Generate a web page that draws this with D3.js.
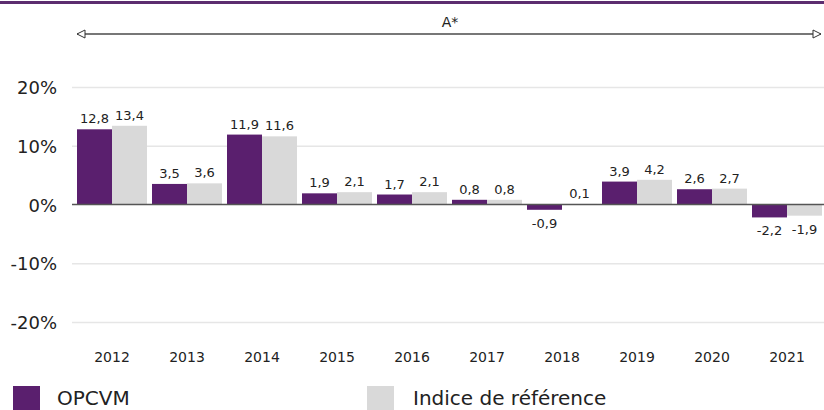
<!DOCTYPE html>
<html><head><meta charset="utf-8">
<script src="https://cdn.jsdelivr.net/npm/d3@7"></script>
<style>body{margin:0;background:#fff}svg{display:block}text{font-family:"DejaVu Sans",Verdana,sans-serif}</style>
</head><body>
<svg id="c" width="824" height="410"></svg>
<script>
const years = ["2012","2013","2014","2015","2016","2017","2018","2019","2020","2021"];
const opcvm = [12.8,3.5,11.9,1.9,1.7,0.8,-0.9,3.9,2.6,-2.2];
const indice = [13.4,3.6,11.6,2.1,2.1,0.8,0.1,4.2,2.7,-1.9];
const seriesNames = ["OPCVM","Indice de référence"];
const yTicks = [-20,-10,0,10,20];
const periodLabel = "A*";

const colors = ["#5a1f6e","#d9d9d9"];
const svg = d3.select("#c");
const x = d3.scaleBand().domain(years).range([77, 827]).paddingInner(0).paddingOuter(0);
const y = d3.scaleLinear().domain([-20,20]).range([322, 87]);
const sub = d3.scaleBand().domain([0,1]).range([0, 70]);
const fmt = v => String(v).replace(".", ",");

svg.append("rect").attr("x",0).attr("y",1).attr("width",824).attr("height",3).attr("fill","#5c2d6f");

svg.append("g").selectAll("line").data(yTicks.filter(d=>d!==0)).join("line")
  .attr("x1",72).attr("x2",824).attr("y1",d=>y(d)+0.5).attr("y2",d=>y(d)+0.5)
  .attr("stroke","#e6e6e6").attr("stroke-width",1.5);

svg.append("g").selectAll("text").data(yTicks).join("text")
  .attr("x",57).attr("y",d=>y(d)+7).attr("text-anchor","end")
  .attr("font-size",18).attr("fill","#222").text(d=>d+"%");

const data = [];
years.forEach((yr,i)=>{ data.push({yr,s:0,v:opcvm[i]}); data.push({yr,s:1,v:indice[i]}); });
svg.append("g").selectAll("rect").data(data).join("rect")
  .attr("x",d=>x(d.yr)+sub(d.s)).attr("width",sub.bandwidth())
  .attr("y",d=>y(Math.max(0,d.v))).attr("height",d=>Math.abs(y(d.v)-y(0)))
  .attr("fill",d=>colors[d.s]);

svg.append("line").attr("x1",72).attr("x2",824).attr("y1",y(0)).attr("y2",y(0))
  .attr("stroke","#555").attr("stroke-width",1.5);

svg.append("g").selectAll("text").data(data).join("text")
  .attr("x",d=>x(d.yr)+sub(d.s)+sub.bandwidth()/2)
  .attr("y",d=>d.v>=0 ? y(d.v)-6 : y(d.v)+18)
  .attr("text-anchor","middle").attr("font-size",13).attr("fill","#222")
  .text(d=>fmt(d.v));

svg.append("g").selectAll("text").data(years).join("text")
  .attr("x",d=>x(d)+35).attr("y",362).attr("text-anchor","middle")
  .attr("font-size",14).attr("fill","#222").text(d=>d);

const defs = svg.append("defs");
["s","e"].forEach(k=>{
  defs.append("marker").attr("id","m"+k).attr("viewBox","0 0 10 10").attr("refX",k==="s"?1:9).attr("refY",5)
   .attr("markerWidth",10).attr("markerHeight",10).attr("markerUnits","userSpaceOnUse").attr("orient","auto")
   .append("path").attr("d",k==="s"?"M9,1 L1,5 L9,9 Z":"M1,1 L9,5 L1,9 Z").attr("fill","#fff").attr("stroke","#333").attr("stroke-width",1);
});
svg.append("line").attr("x1",77).attr("x2",821).attr("y1",34).attr("y2",34)
  .attr("stroke","#777").attr("stroke-width",2)
  .attr("marker-start","url(#ms)").attr("marker-end","url(#me)");
svg.append("text").attr("x",450).attr("y",27).attr("text-anchor","middle").attr("font-size",14).attr("fill","#222").text(periodLabel);

const leg = [{x:13,tx:57},{x:367,tx:413}];
seriesNames.forEach((n,i)=>{
  svg.append("rect").attr("x",leg[i].x).attr("y",386).attr("width",27).attr("height",27).attr("fill",colors[i]);
  svg.append("text").attr("x",leg[i].tx).attr("y",405).attr("font-size",20).attr("fill","#222").text(n);
});
</script>
</body></html>
